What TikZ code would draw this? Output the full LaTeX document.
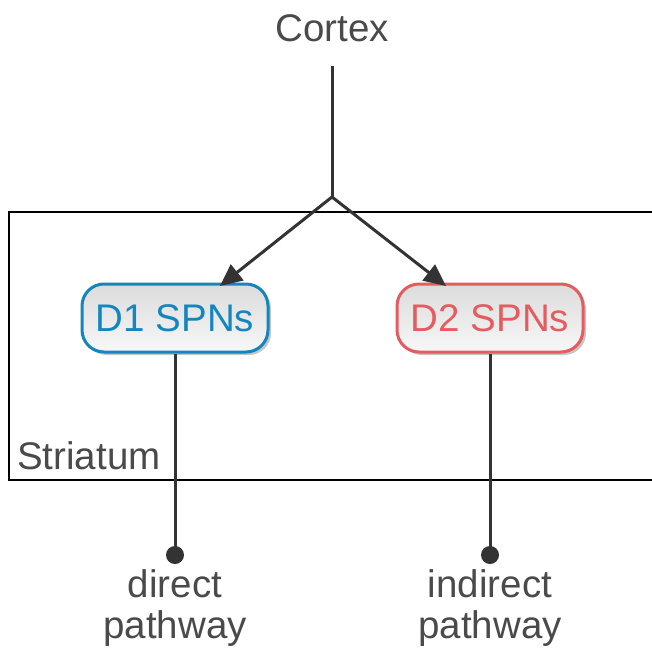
\documentclass[tikz,border=0pt]{standalone}
\usepackage{fontspec}
\setmainfont{Liberation Sans}
\usetikzlibrary{arrows.meta,shadows,calc}
\definecolor{txtgray}{HTML}{4A4A4A}
\definecolor{linegray}{HTML}{333333}
\definecolor{donelue}{HTML}{1486BE}
\definecolor{dtwored}{HTML}{E55C60}
\tikzset{
  lbl/.style={text=txtgray, font=\fontsize{38.5}{41}\selectfont, inner sep=0pt},
  spnbox/.style={rounded corners=22pt, line width=3pt, minimum width=186pt,
    minimum height=68pt, inner sep=0pt, font=\fontsize{38.5}{41}\selectfont,
    top color=black!14, bottom color=black!3,
    drop shadow={shadow xshift=3pt, shadow yshift=-3pt, fill=black!45, opacity=0.5}},
  wire/.style={line width=3pt, draw=linegray},
  tip/.style={-{Triangle[length=22pt,width=20pt]}},
  endpt/.style={circle, fill=linegray, minimum size=18pt, inner sep=0pt}
}
\begin{document}
\begin{tikzpicture}[x=1pt, y=-1pt]
  \useasboundingbox (0,0) rectangle (652,650);
  \clip (0,0) rectangle (652,650);

  % striatum region
  \draw[line width=2.2pt] (9,212) rectangle (670,480);
  \node[lbl, anchor=west] (str) at (17,456) {Striatum};

  % cortex input
  \node[lbl] (ctx) at (332,28) {Cortex};
  \coordinate (ctxb) at (332,66);
  \coordinate (j) at (332,197);

  % spiny projection neurons
  \node[spnbox, draw=donelue, text=donelue] (d1) at (175,318) {D1 SPNs};
  \node[spnbox, draw=dtwored, text=dtwored] (d2) at (490,318) {D2 SPNs};
  \coordinate (t1) at (220,286);
  \coordinate (t2) at (446,286);

  % outputs
  \node[endpt] (o1) at (175,555) {};
  \node[endpt] (o2) at (490,555) {};
  \node[lbl, align=center] (p1) at (175,608) {direct\\pathway};
  \node[lbl, align=center] (p2) at (490,608) {indirect\\pathway};

  % connectors
  \draw[wire] (ctxb) -- (j);
  \draw[wire, tip, line join=miter] (j) -- (t1);
  \draw[wire, tip, line join=miter] (j) -- (t2);
  \draw[wire] (d1.south) -- (o1.center);
  \draw[wire] (d2.south) -- (o2.center);
\end{tikzpicture}
\end{document}
